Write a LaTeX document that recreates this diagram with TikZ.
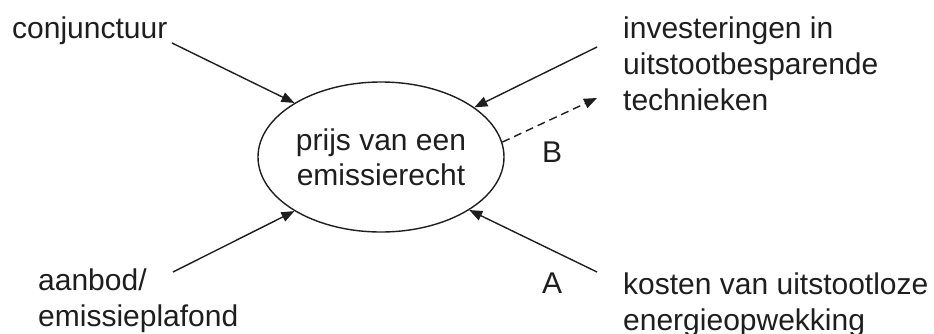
\documentclass[tikz,border=0pt]{standalone}
\usepackage{fontspec}
\setmainfont{Liberation Sans}
\usetikzlibrary{arrows.meta,shapes.geometric}
\definecolor{ink}{RGB}{30,30,30}
\begin{document}
\begin{tikzpicture}[x=1pt,y=-1pt,
  lbl/.style={font=\fontsize{30}{36}\selectfont, text=ink, inner sep=0pt, anchor=base west},
  arr/.style={line width=1.4pt, draw=ink, -{Triangle[length=13pt,width=10pt]}},
  dasharr/.style={arr, dash pattern=on 8pt off 5pt},
  tag/.style={font=\fontsize{30}{36}\selectfont, text=ink, inner sep=0pt}]
\useasboundingbox (0,0) rectangle (934,333);
\node[ellipse, draw=ink, line width=1.4pt, minimum width=246pt, minimum height=150pt,
      inner sep=0pt, align=center, text=ink, font=\fontsize{30}{35}\selectfont]
  (e) at (381,157) {prijs van een\\emissierecht};
\node[lbl] (conj) at (12,38) {\vtop{\hbox{conjunctuur}}};
\node[lbl] (inv) at (623,38) {\vtop{\hbox{investeringen in}\hbox{uitstootbesparende}\hbox{technieken}}};
\node[lbl] (aan) at (38,290) {\vtop{\hbox{aanbod/}\hbox{emissieplafond}}};
\node[lbl] (kos) at (623,294) {\vtop{\hbox{kosten van uitstootloze}\hbox{energieopwekking}}};
\node[tag] (B) at (552,152) {B};
\node[tag] (A) at (552,283) {A};
\coordinate (s1) at (172,43);
\coordinate (s2) at (597,47);
\coordinate (s3) at (173,272);
\coordinate (s4) at (597,272);
\coordinate (t5) at (597,98);
\draw[arr] (s1) -- (e.148);
\draw[arr] (s2) -- (e.28);
\draw[arr] (s3) -- (e.212);
\draw[arr] (s4) -- (e.329);
\draw[dasharr] (e.7) -- (t5);
\end{tikzpicture}
\end{document}
